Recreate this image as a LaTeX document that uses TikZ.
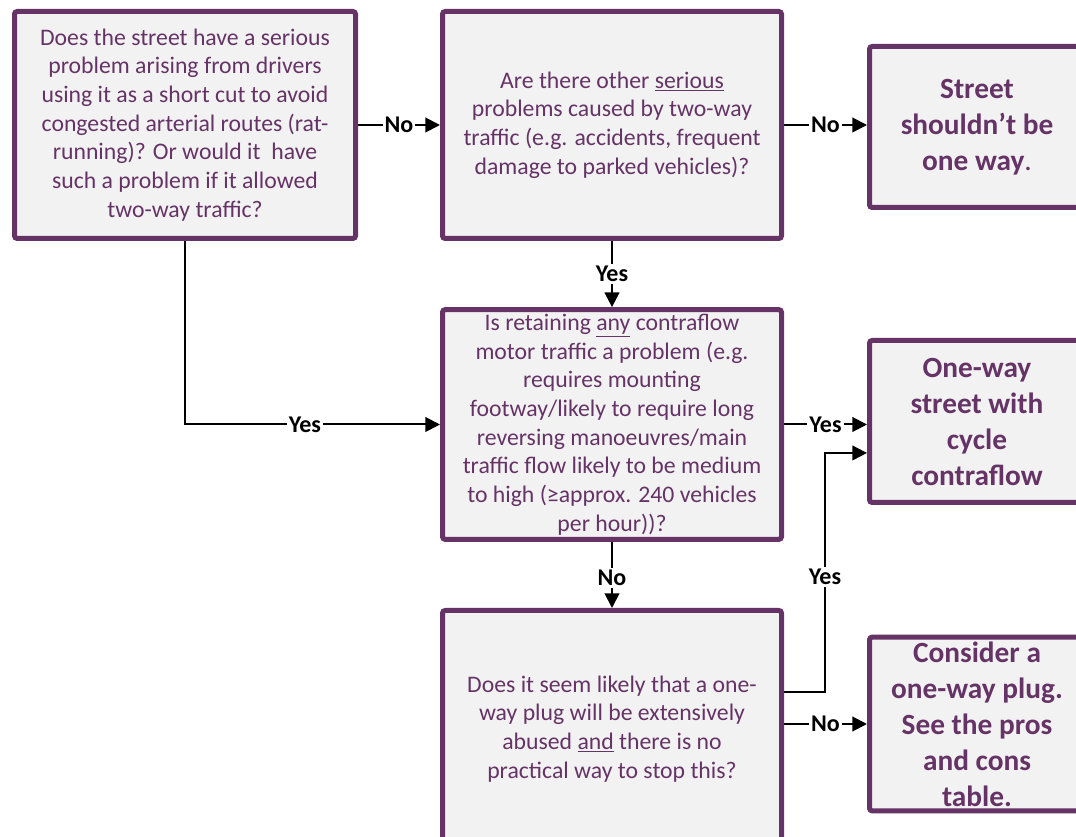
\documentclass[tikz,border=0pt]{standalone}
\usepackage{fontspec}
\setmainfont{Carlito}
\usepackage{tikz}
\usetikzlibrary{arrows.meta, positioning}
\usepackage{xcolor}
\definecolor{boxpurple}{RGB}{102,51,102}
\definecolor{boxfill}{RGB}{242,242,242}
\tikzset{%
	question/.style={
		draw=boxpurple,
		line width=3.75pt,
		fill=boxfill,
		rounded corners=2pt,
		align=center,
		text=boxpurple,
		font=\fontsize{17.8}{21.5}\selectfont
	},
	outcome/.style={
		question,
		font=\fontsize{22}{27}\selectfont\bfseries
	},
	answer/.style={
		fill=white,
		inner sep=1.5pt,
		text=black,
		font=\fontsize{18}{21}\selectfont\bfseries
	},
	flow/.style={
		draw=black,
		line width=1.5pt,
		-{Triangle[length=11pt,width=11pt]}
	},
}
\begin{document}
\begin{tikzpicture}[x=0.75pt,y=-0.75pt]
				\useasboundingbox (0,0) rectangle (1076,837);
				% Questions
				\node[question, minimum width=255.75pt, minimum height=170.25pt] (ratrun) at (185,125)
				{Does the street have a serious\\problem arising from drivers\\using it as a short cut to avoid\\congested arterial routes (rat-\\running)? Or would it\ \ have\\such a problem if it allowed\\two-way traffic?};
				\node[question, minimum width=254.25pt, minimum height=170.25pt] (other) at (612,125)
				{Are there other \underline{serious}\\problems caused by two-way\\traffic (e.g. accidents, frequent\\damage to parked vehicles)?};
				\node[question, minimum width=254.25pt, minimum height=171pt] (contra) at (612,424.5)
				{Is retaining \underline{any} contraflow\\motor traffic a problem (e.g.\\requires mounting\\footway/likely to require long\\reversing manoeuvres/main\\traffic flow likely to be medium\\to high (≥approx. 240 vehicles\\per hour))?};
				\node[question, minimum width=254.25pt, minimum height=177.75pt] (plug) at (612,729)
				{Does it seem likely that a one-\\way plug will be extensively\\abused \underline{and} there is no\\practical way to stop this?};
				% Outcomes
				\node[outcome, minimum width=161.25pt, minimum height=120.75pt] (twoway) at (977,127)
				{Street\\shouldn’t be\\one way\mdseries.};
				\node[outcome, minimum width=161.25pt, minimum height=121.5pt] (cycle) at (977,421.5)
				{One-way\\street with\\cycle\\contraflow};
				\node[outcome, minimum width=161.25pt, minimum height=122.25pt] (oneplug) at (977,724)
				{Consider a\\one-way plug.\\See the pros\\and cons\\table.};
				% Connectors
				\draw[flow] (ratrun) -- node[answer]{No} (other);
				\draw[flow] (other.east) -- node[answer]{No} (twoway.west |- other.east);
				\draw[flow] (other) -- node[answer]{Yes} (contra);
				\draw[flow] (ratrun.south) |- node[answer, pos=0.735]{Yes} (contra.west);
				\draw[flow] (contra.east) -- node[answer]{Yes} (cycle.west |- contra.east);
				\draw[flow] (contra) -- node[answer, pos=0.55]{No} (plug);
				\draw[flow] ([yshift=27.75pt]plug.east) -- ++(41,0)
				|- node[answer, pos=0.24]{Yes} ([yshift=-23.6pt]cycle.west);
				\draw[flow] (plug.east |- oneplug.west) -- node[answer]{No} (oneplug.west);
			\end{tikzpicture}
\end{document}
